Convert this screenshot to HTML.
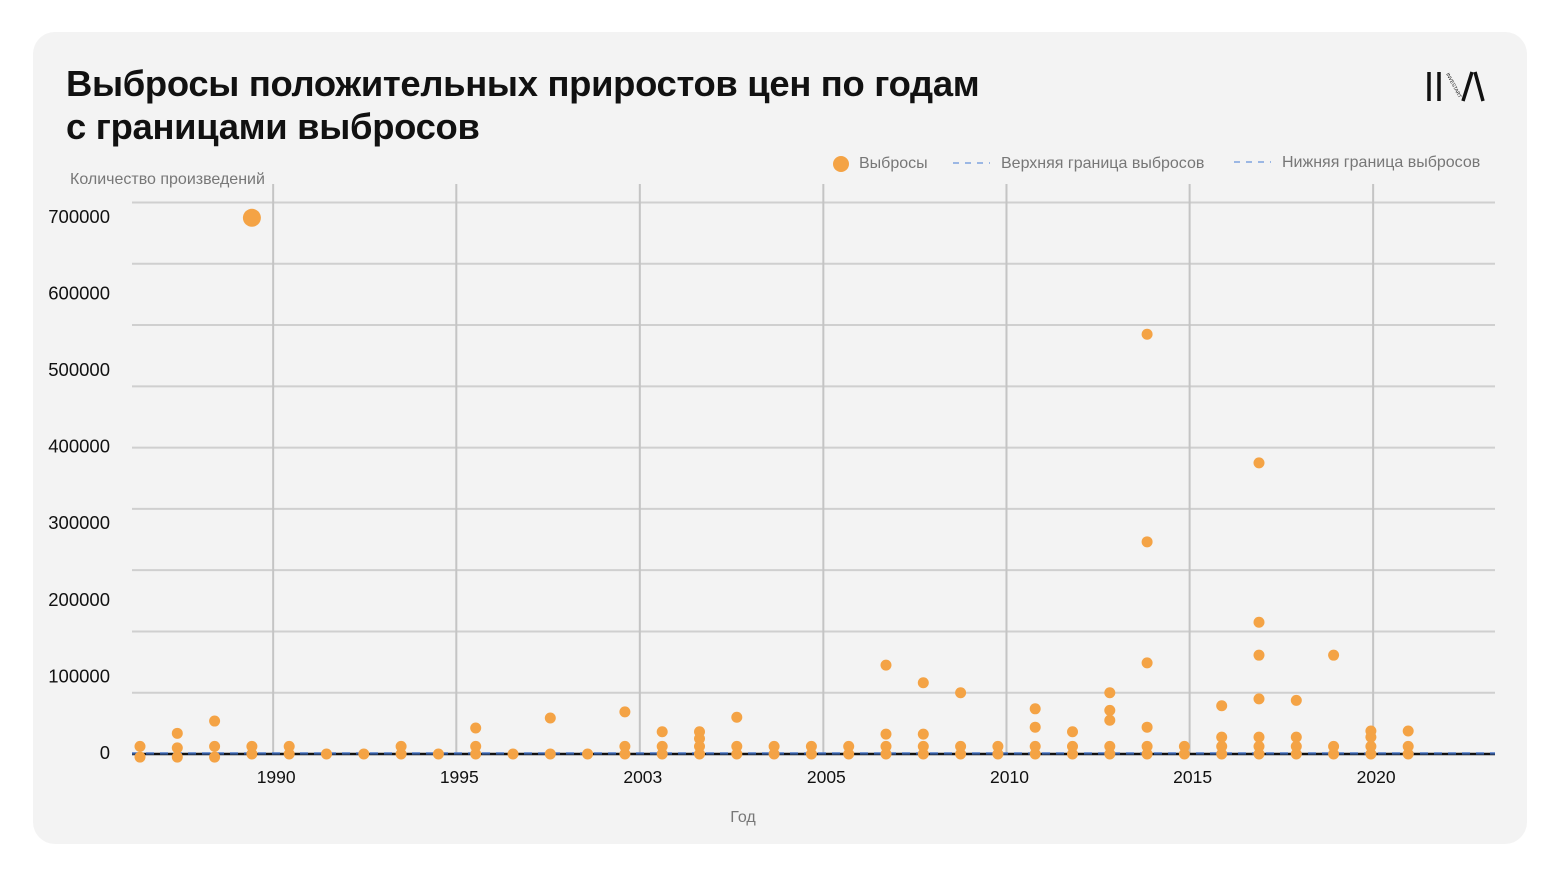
<!DOCTYPE html>
<html><head><meta charset="utf-8"><style>
body{margin:0;background:#fff;width:1560px;height:877px;overflow:hidden;font-family:"Liberation Sans",sans-serif}
#card{position:absolute;left:33px;top:32px;width:1494px;height:812px;background:#f3f3f3;border-radius:22px}
h1{position:absolute;left:66px;top:62px;margin:0;font-size:36.4px;line-height:43px;font-weight:bold;color:#111;letter-spacing:-0.3px}
svg{position:absolute;left:0;top:0}
</style></head><body>
<div id="card"></div>
<h1>Выбросы положительных приростов цен по годам<br>с границами выбросов</h1>
<svg id="chart" width="1560" height="877"></svg>
<script>
const categories=["c0","c1","c2","c3","c4","c5","c6","c7","c8","c9","c10","c11","c12","c13","c14","c15","c16","c17","c18","c19","c20","c21","c22","c23","c24","c25","c26","c27","c28","c29","c30","c31","c32","c33","c34"];
const outlierValues=[[10000,-4000],[27000,8000,-4000],[43000,10000,-4000],[700000,10000,0],[10000,0],[0],[0],[10000,0],[0],[34000,10000,0],[0],[47000,0],[0],[55000,10000,0],[29000,10000,0],[29000,20000,10000,0],[48000,10000,0],[10000,0],[10000,0],[10000,0],[116000,26000,10000,0],[93000,26000,10000,0],[80000,10000,0],[10000,0],[59000,35000,10000,0],[29000,10000,0],[80000,57000,44000,10000,0],[548000,277000,119000,35000,10000,0],[10000,0],[63000,22000,10000,0],[380000,172000,129000,72000,22000,10000,0],[70000,22000,10000,0],[129000,10000,0],[30000,22000,10000,0],[30000,10000,0]];
const upperBound=[0];
const lowerBound=[0];
const yTickLabels=[0,100000,200000,300000,400000,500000,600000,700000];
const yGridValues=[0,80000,160000,240000,320000,400000,480000,560000,640000,720000];
const xTickLabels=["1990","1995","2003","2005","2010","2015","2020"];
const xTickIndex=[3.57,8.48,13.4,18.32,23.23,28.14,33.06];
const NS="http://www.w3.org/2000/svg";
const svg=document.getElementById('chart');
const x=i=>140+i*37.3;
const y=v=>754-v*0.000766;
function mk(t,a,txt){const e=document.createElementNS(NS,t);for(const k in a)e.setAttribute(k,a[k]);if(txt!==undefined)e.textContent=txt;svg.appendChild(e);return e;}
yGridValues.forEach(v=>{const l=mk('line',{x1:132,x2:1495,y1:y(v),y2:y(v),stroke:'#cfcfcf','stroke-width':2});

});
xTickIndex.forEach((t,k)=>{const l=mk('line',{x1:x(t),x2:x(t),y1:184,y2:754,stroke:'#c4c4c4','stroke-width':2});


const tx=mk('text',{x:x(t)+3,y:783,'text-anchor':'middle','font-size':17.5,fill:'#111'},xTickLabels[k]);

});
yTickLabels.forEach(v=>{const tx=mk('text',{x:110,y:y(v)+5,'text-anchor':'end','font-size':18.5,fill:'#111'},String(v));

});
const zl=mk('line',{x1:132,x2:1495,y1:y(0),y2:y(0),stroke:'#111','stroke-width':2.5});


const ub=mk('line',{x1:132,x2:1495,y1:y(upperBound[0])-1,y2:y(upperBound[0])-1,stroke:'#4a78c8','stroke-width':1.5,'stroke-dasharray':'8 6'});


const lb=mk('line',{x1:132,x2:1495,y1:y(lowerBound[0]),y2:y(lowerBound[0]),stroke:'#2c4f8a','stroke-width':1.5,'stroke-dasharray':'8 6'});


outlierValues.forEach((vals,i)=>vals.forEach(v=>{const c=mk('circle',{cx:x(i),cy:y(v),r:v>=650000?9:5.5,fill:'#f4a345'});

}));
const yt=mk('text',{x:70,y:184,'font-size':16,fill:'#777'},'Количество произведений');


const xt=mk('text',{x:743,y:822,'text-anchor':'middle','font-size':16,fill:'#777'},'Год');


const lc=mk('circle',{cx:841,cy:164,r:8,fill:'#f4a345'});


const l1=mk('text',{x:859,y:168,'font-size':16,fill:'#777'},'Выбросы');


const d1=mk('line',{x1:953,x2:990,y1:163,y2:163,stroke:'#7ea3e0','stroke-width':1.5,'stroke-dasharray':'6 6'});


const l2=mk('text',{x:1001,y:168,'font-size':16,fill:'#777'},'Верхняя граница выбросов');


const d2=mk('line',{x1:1234,x2:1271,y1:162,y2:162,stroke:'#7ea3e0','stroke-width':1.5,'stroke-dasharray':'6 6'});


const l3=mk('text',{x:1282,y:167,'font-size':16,fill:'#777'},'Нижняя граница выбросов');


const g=document.createElementNS(NS,'g');


g.innerHTML='<line x1="1429" y1="72" x2="1429" y2="101" stroke="#111" stroke-width="3.5"/><line x1="1439" y1="72" x2="1439" y2="101" stroke="#111" stroke-width="3.5"/><text x="0" y="0" font-size="5" fill="#111" transform="translate(1446,74) rotate(62)">INVESTART</text><line x1="1463" y1="101" x2="1472" y2="72" stroke="#111" stroke-width="3.5"/><line x1="1475" y1="72" x2="1483" y2="101" stroke="#111" stroke-width="3.5"/>';
svg.appendChild(g);
</script>
</body></html>
